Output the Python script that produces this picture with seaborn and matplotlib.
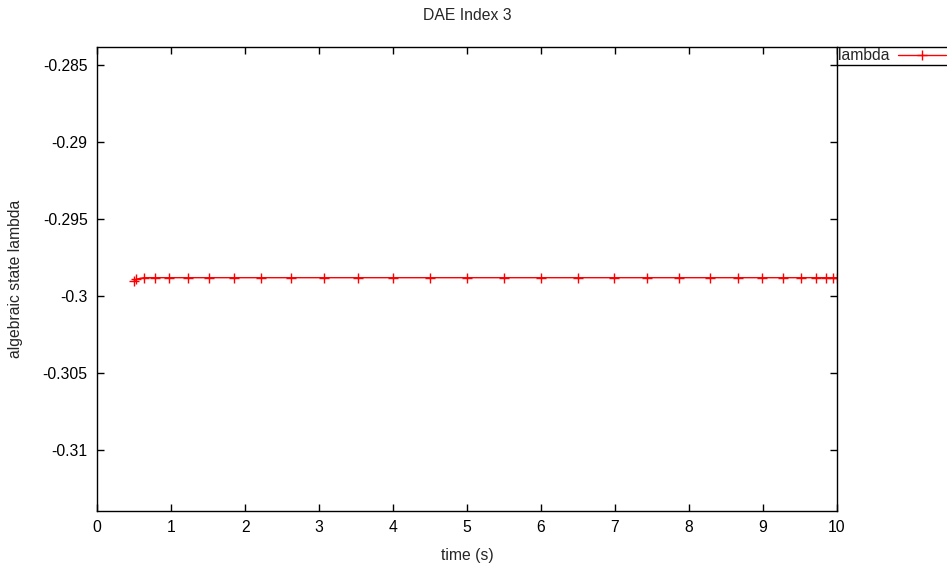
import pandas as pd
import matplotlib
matplotlib.use("Agg")
import matplotlib.pyplot as plt
import seaborn as sns

# datos
time_s = [0.50, 0.53, 0.63, 0.78, 0.97, 1.22, 1.51, 1.85, 2.22, 2.62, 3.07, 3.52,
          4.00, 4.50, 5.00, 5.50, 6.00, 6.50, 6.99, 7.44, 7.87, 8.29, 8.66, 8.99,
          9.27, 9.52, 9.72, 9.86, 9.95, 10.00]
lambda_vals = [-0.29901, -0.29890] + [-0.29881] * 28
y_ticks = [-0.285, -0.29, -0.295, -0.3, -0.305, -0.31]
x_ticks = list(range(0, 11))

df = pd.DataFrame({"time": time_s, "lambda": lambda_vals})

sns.set_style("ticks")
plt.rcParams["font.family"] = ["Liberation Sans", "DejaVu Sans"]
plt.rcParams["font.size"] = 11.3

fig = plt.figure(figsize=(9.47, 5.71), dpi=100)
ax = fig.add_axes([97.3 / 947, 1 - 510.7 / 571, (836.7 - 97.3) / 947, (510.7 - 46.7) / 571])

sns.lineplot(data=df, x="time", y="lambda", ax=ax, color="#ff0000", linewidth=1,
             marker="+", markersize=6.5, markeredgewidth=1, markeredgecolor="#ff0000",
             label="lambda")

ax.set_xlim(0, 10)
ax.set_ylim(-0.31394, -0.28381)
ax.set_xticks(x_ticks)
ax.set_yticks(y_ticks)
ax.set_yticklabels([f"{v:g}" for v in y_ticks])
ax.tick_params(direction="in", length=5, width=1, top=True, right=True,
               labelsize=11.3, pad=7, colors="black")
for s in ax.spines.values():
    s.set_visible(True)
    s.set_linewidth(1)
    s.set_color("black")

ax.set_title("DAE Index 3", fontsize=11.3, pad=19)
ax.set_xlabel("time (s)", fontsize=11.3, labelpad=9)
ax.set_ylabel("algebraic state lambda", fontsize=11.3, labelpad=14)

leg = ax.legend(loc="upper left", bbox_to_anchor=(1, 1), borderaxespad=0,
                borderpad=0.1, handletextpad=0.5, handlelength=3.1,
                markerfirst=False, fancybox=False, framealpha=1, fontsize=11.3)
leg.get_frame().set_edgecolor("black")
leg.get_frame().set_linewidth(1)

fig.savefig("out.png", dpi=100)
